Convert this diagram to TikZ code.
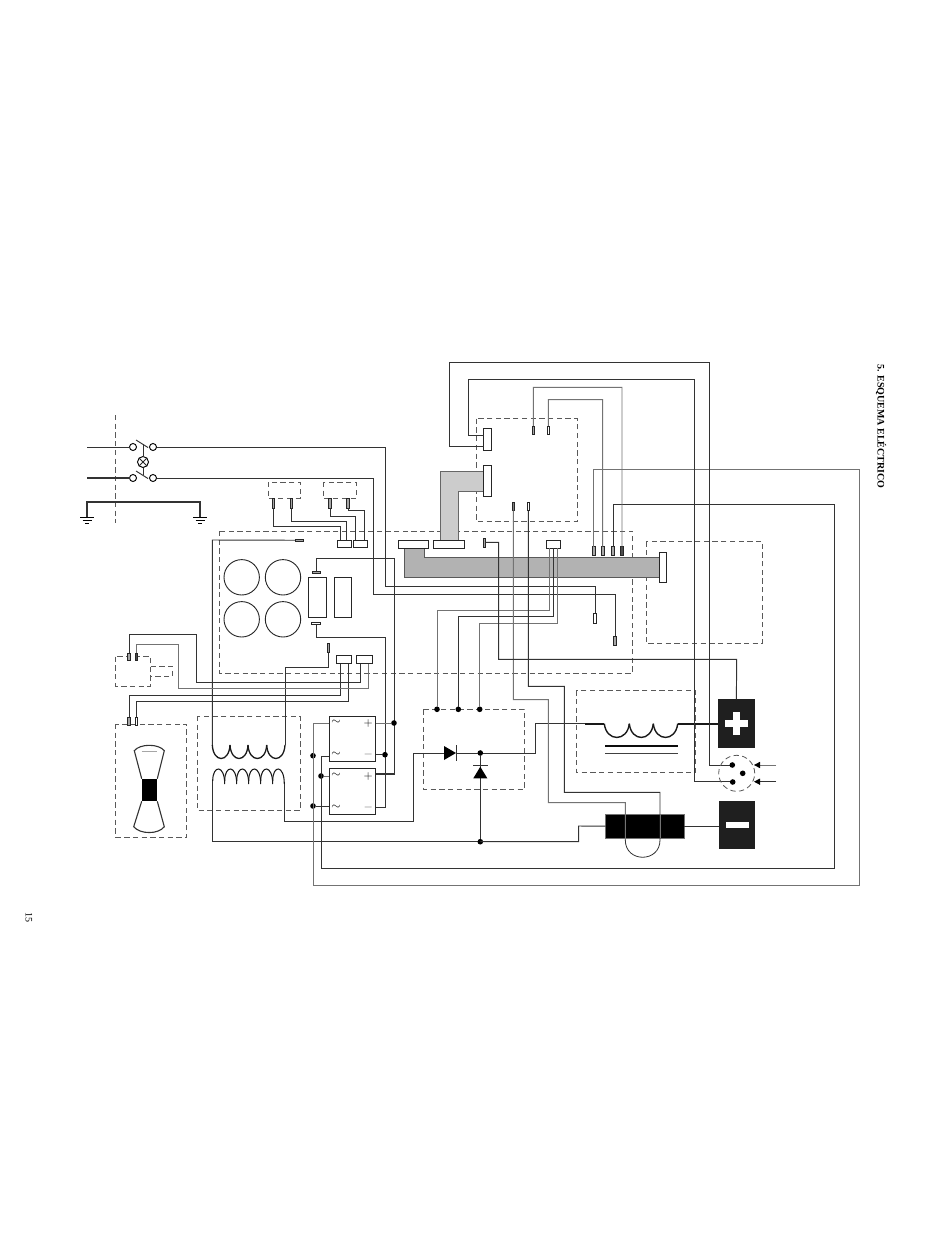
\documentclass[tikz,border=0pt]{standalone}
\usepackage{fontspec}
\setmainfont{Liberation Serif}
\tikzset{
  x=1pt,y=-1pt,
  wire/.style={line width=0.95pt,draw=black!80},
  wirelight/.style={line width=0.95pt,draw=black!55},
  thick wire/.style={line width=1.5pt,draw=black!90},
  dashbox/.style={line width=0.8pt,draw=black!65,dash pattern=on 5.3pt off 3.4pt},
  thin line/.style={line width=0.8pt,draw=black!85},
  termbox/.style={draw=black!85,fill=white,line width=0.95pt,inner sep=0pt,outer sep=0pt,rectangle},
  pinbox/.style={draw=black!85,fill=black!35,line width=0.7pt,inner sep=0pt,outer sep=0pt,rectangle},
  dot/.style={circle,fill=black,draw=none,minimum size=5.6pt,inner sep=0pt,outer sep=0pt},
  ring/.style={circle,draw=black,fill=white,line width=0.95pt,minimum size=7pt,inner sep=0pt,outer sep=0pt},
  disc/.style={circle,draw=black!85,line width=0.9pt,minimum size=35.4pt,inner sep=0pt,outer sep=0pt},
  solidbox/.style={rectangle,fill=black!88,draw=none,inner sep=0pt,outer sep=0pt},
  sym/.style={inner sep=0pt,font=\fontsize{12}{12}\selectfont},
}
\newcommand{\bx}[6][]{%
  \pgfmathsetmacro{\bw}{#5-#3}\pgfmathsetmacro{\bh}{#6-#4}%
  \pgfmathsetmacro{\bcx}{(#3+#5)/2}\pgfmathsetmacro{\bcy}{(#4+#6)/2}%
  \node[#1,minimum width=\bw pt,minimum height=\bh pt] (#2) at (\bcx,\bcy) {};}
\begin{document}
\begin{tikzpicture}
\useasboundingbox (0,0) rectangle (950,1244);
\fill[white] (0,0) rectangle (950,1244);

% ---- dashed enclosures
\draw[dashbox] (115.7,415) -- (115.7,523);
\draw[dashbox] (268,482) rectangle (300,498);
\draw[dashbox] (323,482) rectangle (356,498);
\draw[dashbox] (219.3,531) rectangle (632.7,673);
\draw[dashbox] (476,418.7) rectangle (577.3,521.3);
\draw[dashbox] (646.3,541.3) rectangle (762.3,643.7);
\draw[dashbox] (115.7,656.7) rectangle (150.7,686);
\draw[dashbox] (150.7,666) -- (172,666) -- (172,676.7) -- (150.7,676.7);
\draw[dashbox] (115.7,724) rectangle (186.7,837.3);
\draw[dashbox] (197.7,716) rectangle (300,810.7);
\draw[dashbox] (423.7,709.3) rectangle (524.7,789.3);
\draw[dashbox] (576.7,690.3) rectangle (695.3,772.3);

% ---- cable harnesses
\draw[line width=1pt,draw=black!65,fill=black!30] (404.7,547.7) -- (424.3,547.7) -- (424.3,557.3) -- (659.3,557.3) -- (659.3,577.3) -- (404.7,577.3) -- cycle;
\draw[line width=1pt,draw=black!60,fill=black!20] (440,540) -- (440,471.3) -- (483.7,471.3) -- (483.7,491.3) -- (458.7,491.3) -- (458.7,540);

% ---- connector blocks
\bx[termbox]{cA}{337}{540}{351.7}{547.7}
\bx[termbox]{cB}{353.7}{540}{367.7}{547.7}
\bx[termbox]{cC}{336.7}{655.7}{351.7}{663.7}
\bx[termbox]{cD}{356.7}{655.7}{372.3}{663.7}
\bx[termbox]{cE}{398}{540}{428.7}{548}
\bx[termbox]{cF}{433.7}{540}{464.7}{548}
\bx[termbox]{cG}{546}{540}{560.3}{548}
\bx[termbox]{cH}{659.3}{552}{666.7}{582.7}
\bx[termbox]{cI}{483.7}{465.7}{491.3}{496.3}
\bx[termbox]{cJ}{483.7}{428.7}{491.3}{450.3}

% ---- pins
\bx[pinbox]{pA}{272}{498}{274.6}{508}
\bx[pinbox]{pB}{290}{498}{292.6}{508}
\bx[pinbox]{pC}{328.7}{498}{331.3}{508}
\bx[pinbox]{pD}{346.7}{498}{349.3}{508}
\bx[pinbox]{pE}{295}{539}{303.3}{541.5}
\bx[pinbox]{pF}{312.3}{571}{320.7}{573.3}
\bx[pinbox,fill=white]{pG}{311.7}{622}{320.7}{624.7}
\bx[pinbox]{pH}{327}{643}{329.4}{652}
\bx[pinbox]{pI}{127.7}{653}{130.3}{660.7}
\bx[pinbox,fill=black!70]{pJ}{135}{653}{137.6}{660.7}
\bx[pinbox]{pK}{127.7}{717}{130.3}{725}
\bx[pinbox,fill=white]{pL}{135}{717}{137.6}{725}
\bx[pinbox]{pM}{483}{538.7}{485.3}{547}
\bx[pinbox]{pN}{532.2}{426}{534.6}{434.3}
\bx[pinbox,fill=white]{pO}{547.2}{426}{549.6}{434.3}
\bx[pinbox,fill=black!50]{pP}{512.2}{502.3}{514.6}{510.3}
\bx[pinbox,fill=white]{pQ}{527.2}{502.3}{529.6}{510.3}
\bx[pinbox]{pR}{592.4}{546.7}{595}{555}
\bx[pinbox]{pS}{601.4}{546.7}{604}{555}
\bx[pinbox]{pT}{611.7}{546.7}{614.3}{555}
\bx[pinbox,fill=black!70]{pU}{620.7}{546.7}{623.3}{555}
\bx[pinbox,fill=white]{pV}{593.7}{613}{596.3}{623}
\bx[pinbox]{pW}{613.7}{636}{616.3}{645}

% ---- capacitors and PCB blocks
\node[disc] (d1) at (241.7,577.3) {};
\node[disc] (d2) at (283,577.3) {};
\node[disc] (d3) at (241.7,619.3) {};
\node[disc] (d4) at (283,619.3) {};
\bx[termbox]{r1}{308.7}{577}{326}{617.3}
\bx[termbox]{r2}{334.3}{577}{351.7}{617.3}

% ---- mains switches
\coordinate (in1) at (87,447);
\coordinate (in2) at (87,478);
\node[ring] (s1a) at (133,447) {};
\node[ring] (s1b) at (153,447) {};
\node[ring] (s2a) at (133,478) {};
\node[ring] (s2b) at (153,478) {};
\node[ring,minimum size=11pt] (lamp) at (143,462) {};
\draw[wire] (in1) -- (s1a.west);
\draw[wire,line width=1.2pt] (in2) -- (s2a.west);
\draw[wire] (136,440) -- (148,447.5);
\draw[wire] (136,471) -- (148,478.5);
\draw[wire] (143,444) -- (lamp.north);
\draw[wire] (lamp.south) -- (143,474.5);
\draw[thin line] (lamp.north west) -- (lamp.south east);
\draw[thin line] (lamp.north east) -- (lamp.south west);

% ---- earth
\coordinate (gL) at (87,517.5);
\coordinate (gR) at (200,517.5);
\draw[wire,line width=1.15pt] (gL) -- (87,502) -- (200,502) -- (gR);
\foreach \gx in {87,200}{
  \draw[line width=1.2pt] (\gx-7,517.5) -- (\gx+7,517.5);
  \draw[line width=1.2pt] (\gx-4.5,520.7) -- (\gx+4.5,520.7);
  \draw[line width=1.2pt] (\gx-2,523.3) -- (\gx+2,523.3);
}

% ---- mains wires
\draw[wire] (s1b.east) -- (385,447) -- (385,586) -- (595,586) -- (pV.north);
\draw[wire] (s2b.east) -- (373,478) -- (373,594) -- (615,594) -- (pW.north);

% ---- small dashed boxes to blocks
\draw[wire] (pA.south) -- (273.3,526) -- (340.7,526) -- (340.7,0 |- cA.north);
\draw[wire] (pB.south) -- (291.3,521.3) -- (346.7,521.3) -- (346.7,0 |- cA.north);
\draw[wire] (pC.south) -- (330,516.7) -- (355,516.7) -- (355,0 |- cB.north);
\draw[wire] (pD.south) -- (348,510.7) -- (364,510.7) -- (364,0 |- cB.north);

% ---- PCB wires
\draw[wire] (pE.west) -- (212.3,540) -- (212.3,745);
\draw[wire] (pF.north) -- (316.5,558.7) -- (394,558.7) -- (394,774) -- (376,774);
\draw[wire] (pG.south) -- (316.2,637.3) -- (385,637.3) -- (385,807) -- (376,807);
\draw[wire] (pH.south) -- (328.2,667) -- (285,667) -- (285,745);

% ---- wires to fan and to the small box
\draw[wire] (340,0 |- cC.south) -- (340,695) -- (129,695) -- (pK.north);
\draw[wire] (348.3,0 |- cC.south) -- (348.3,701) -- (136.3,701) -- (pL.north);
\draw[wire] (360,0 |- cD.south) -- (360,682.3) -- (196.7,682.3) -- (196.7,634.7) -- (129,634.7) -- (pI.north);
\draw[wirelight] (368.3,0 |- cD.south) -- (368.3,688.7) -- (178.3,688.7) -- (178.3,644.7) -- (136.3,644.7) -- (pJ.north);

% ---- fan
\draw[wire,line width=1.1pt] (141.7,778.7) -- (134.3,750.7) .. controls (140,743.5) and (158.6,743.5) .. (164.3,750.7) -- (157.3,778.7);
\draw[wire,line width=1.1pt] (141.7,801.3) -- (133.7,826.7) .. controls (140,834.5) and (158.6,834.5) .. (164.3,826.7) -- (157.3,801.3);
\draw[line width=0.6pt,draw=black!35] (141.7,751.3) -- (156.7,751.3);
\bx[solidbox,fill=black]{fan}{141.7}{778.7}{157.3}{801.3}

% ---- transformer
\foreach \ax/\ex in {212.3/230,230/248,248/266.7,266.7/285}{
  \draw[line width=1.3pt,draw=black!90] (\ax,745) .. controls (\ax+1,763) and (\ex-1,763) .. (\ex,745);
}
\foreach \ax/\ex in {212.7/224.7,224.7/236.7,236.7/248.7,248.7/260.7,260.7/272.7,272.7/284.3}{
  \draw[line width=1.05pt,draw=black!90] (\ax,781) .. controls (\ax,764.5) and (\ex,764.5) .. (\ex,784);
}
\coordinate (n1) at (480.3,841.7);
\draw[wire] (212.7,781) -- (212.7,841.7) -- (n1);
\draw[wire] (284.3,784) -- (284.3,821) -- (413.3,821) -- (413.3,753) -- (444,753);

% ---- rectifier bridges
\bx[termbox,fill=none]{b1}{329.3}{716}{375.7}{761.3}
\bx[termbox,fill=none]{b2}{329.3}{768.7}{375.7}{814}
\node[dot] (j1) at (394,723) {};
\node[dot] (j2) at (385,754.7) {};
\node[dot] (j3) at (313,755.7) {};
\node[dot] (j4) at (321,776) {};
\node[dot] (j5) at (313,806) {};
\draw[wirelight] (b1.east |- j1) -- (j1);
\draw[wire] (b1.east |- j2) -- (j2);
\draw[wire,line width=1.3pt] (b2.east |- 0,774) -- (394,774);
\draw[wire] (b2.west |- j5) -- (j5);
\draw[wirelight] (b2.west |- j4) -- (j4);
\draw[wirelight] (b1.west |- 0,723) -- (313,723) -- (313,885) -- (859,885) -- (859,469) -- (593.7,469) -- (pR.north);
\draw[wire] (b1.west |- 0,756) -- (321,756) -- (321,868.3) -- (834,868.3) -- (834,504) -- (613,504) -- (pT.north);
\foreach \nm/\tx/\ty in {t1/336/722.3,t2/336/754.7,t3/336/775.3,t4/336/807}{
  \node[sym] (\nm) at (\tx,\ty) {$\sim$};
}
\node[sym] (p1) at (368.3,723) {$+$};
\node[sym,text=black!60] (m1) at (368.3,754) {$-$};
\node[sym] (p2) at (368.3,776) {$+$};
\node[sym,text=black!60] (m2) at (368.3,807) {$-$};

% ---- diodes
\node[dot] (j6) at (437,709.3) {};
\node[dot] (j7) at (458.3,709.3) {};
\node[dot] (j8) at (479.7,709.3) {};
\node[dot] (j9) at (480.3,753) {};
\node[dot] (j10) at (n1) {};
\draw[wirelight] (j6) -- (437,610) -- (549.3,610) -- (549.3,0 |- cG.south);
\draw[wire] (j7) -- (458.3,616.7) -- (553.3,616.7) -- (553.3,0 |- cG.south);
\draw[wirelight] (j8) -- (479.7,623.7) -- (557.3,623.7) -- (557.3,0 |- cG.south);
\fill[black] (444,746) -- (444,760) -- (456,753) -- cycle;
\draw[wire] (456.7,745) -- (456.7,761);
\draw[wire] (456,753) -- (j9);
\draw[wire] (j9) -- (j10);
\fill[black] (473.3,778.3) -- (487.3,778.3) -- (480.3,766.7) -- cycle;
\draw[wire] (473,765.3) -- (488,765.3);
\draw[wire] (j9) -- (535.7,753) -- (535.7,723.7) -- (585.3,723.7);

% ---- choke
\draw[line width=1.6pt,draw=black!90] (585.3,723.7) -- (604.3,723.7);
\foreach \ax/\ex in {604.3/629.3,629.3/653.3,653.3/677.7}{
  \draw[line width=1.4pt,draw=black!90] (\ax,723.7) .. controls (\ax+2,742) and (\ex-2,742) .. (\ex,723.7);
}
\draw[line width=1.5pt,draw=black!95] (605,746) -- (678,746);
\draw[line width=1.5pt,draw=black!75] (605,753.3) -- (678,753.3);

% ---- battery terminals
\bx[solidbox]{plus}{717.7}{699.3}{755}{747.7}
\bx[solidbox]{minus}{719}{800.7}{755}{849}
\fill[white] (725.3,720) rectangle (748.3,726.7);
\fill[white] (733.3,711.7) rectangle (740,735);
\fill[white] (725.7,821.7) rectangle (748.7,828.3);
\draw[line width=1.6pt,draw=black!90] (677.7,723.7) -- (plus.west |- 0,723.7);

% ---- shunt / solenoid
\bx[solidbox,fill=black,draw=black!55,line width=0.7pt]{shunt}{605.7}{814.3}{684.3}{838}
\draw[wire] (n1) -- (578.7,841.7) -- (578.7,826) -- (shunt.west);
\draw[wire] (shunt.east) -- (minus.west |- shunt.east);
\draw[wirelight] (pP.south) -- (513.3,699.7) -- (548.3,699.7) -- (548.3,802.7) -- (625.3,802.7) -- (625.3,840);
\draw[wire] (pQ.south) -- (528.3,686.3) -- (564.3,686.3) -- (564.3,792.3) -- (660,792.3) -- (660,840);
\draw[wire,line width=0.8pt] (625.3,840) .. controls (625.3,863) and (660,863) .. (660,840);
\draw[wirelight] (625.3,814) -- (625.3,838);
\draw[wirelight] (660,814) -- (660,838);

% ---- remaining harness wires
\draw[wire] (pM.east |- 0,542.3) -- (498.7,542.3) -- (498.7,659.3) -- (736.7,659.3) -- (plus.north);
\draw[wire] (cJ.west |- 0,435) -- (468.3,435) -- (468.3,379.3) -- (694.3,379.3) -- (694.3,781.7) -- (732.7,781.7);
\draw[wire] (cJ.west |- 0,446) -- (449,446) -- (449,362.3) -- (709.3,362.3) -- (709.3,765) -- (732.3,765);
\draw[wirelight] (pN.north) -- (533.3,387.3) -- (622,387.3) -- (pU.north);
\draw[wirelight] (pO.north) -- (548.3,399.7) -- (602.7,399.7) -- (pS.north);

% ---- key switch
\node[circle,dashbox,minimum size=36pt,inner sep=0pt] (key) at (736.7,773.3) {};
\node[dot] (k1) at (732.3,765) {};
\node[dot] (k2) at (742.7,773.3) {};
\node[dot] (k3) at (732.7,782) {};
\coordinate (a1) at (776,765);
\coordinate (a2) at (776,781.7);
\coordinate (a1e) at (757,765);
\coordinate (a2e) at (757,781.7);
\draw[wirelight,line width=0.8pt] (a1) -- (a1e);
\draw[wire,line width=0.7pt] (a2) -- (a2e);
\fill[black] (754,765) -- (760,761.8) -- (760,768.2) -- cycle;
\fill[black] (754,781.7) -- (760,778.5) -- (760,784.9) -- cycle;

% ---- text
\node[rotate=-90,inner sep=0pt,font=\fontsize{10}{10}\selectfont\bfseries] (title) at (881,426.5) {5. ESQUEMA ELÉCTRICO};
\node[rotate=-90,inner sep=0pt,font=\fontsize{10}{10}\selectfont] (page) at (29,917) {15};
\end{tikzpicture}
\end{document}
